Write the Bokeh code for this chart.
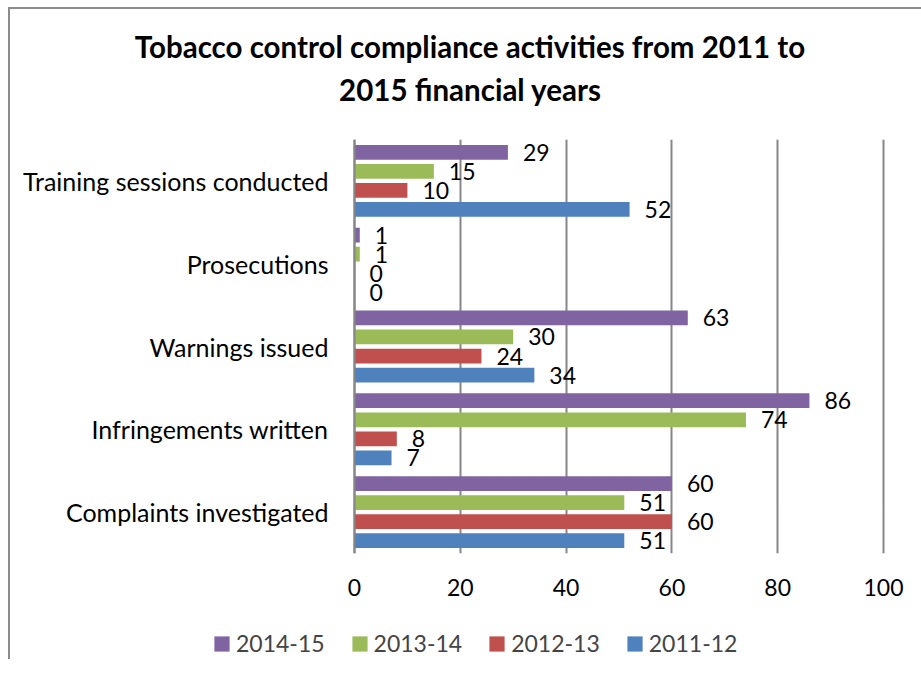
from bokeh.plotting import figure
from bokeh.layouts import column
from bokeh.models import ColumnDataSource, FactorRange, Range1d, Legend, LegendItem, Div
from bokeh.transform import dodge
from bokeh.core.properties import value
from bokeh.embed import file_html
from bokeh.resources import INLINE

title_lines = ["Tobacco control compliance activities from 2011 to", "2015 financial years"]
categories = ["Complaints investigated", "Infringements written", "Warnings issued",
              "Prosecutions", "Training sessions conducted"]
series_names = ["2014-15", "2013-14", "2012-13", "2011-12"]
v_2014_15 = [60, 86, 63, 1, 29]
v_2013_14 = [51, 74, 30, 1, 15]
v_2012_13 = [60, 8, 24, 0, 10]
v_2011_12 = [51, 7, 34, 0, 52]
x_ticks = [0, 20, 40, 60, 80, 100]

colors = {"2014-15": "#8064A2", "2013-14": "#9BBB59", "2012-13": "#C0504D", "2011-12": "#4F81BD"}
offsets = {"2014-15": 0.345, "2013-14": 0.115, "2012-13": -0.115, "2011-12": -0.345}
series_vals = {"2014-15": v_2014_15, "2013-14": v_2013_14, "2012-13": v_2012_13, "2011-12": v_2011_12}

FONT = "Lato"
NUM_SIZE = "23px"
CAT_SIZE = "25px"
W = 911
AXIS_PX = 344           # where value 0 sits, px from the left of the chart
PX_PER_UNIT = 529 / 100  # scale of the value axis

data = dict(cat=categories)
for k, v in series_vals.items():
    c = k.replace("-", "_")
    data["v_" + c] = v
    data["lbl_" + c] = [str(x) for x in v]
src = ColumnDataSource(data)

# title block
title_div = Div(
    text=('<div style="width:%dpx; padding-top:16px; padding-left:9px; box-sizing:border-box; '
          'text-align:center; font-family:Lato; font-size:29.5px; font-weight:bold; color:black; '
          'line-height:43px;">%s<br>%s</div>') % (W, title_lines[0], title_lines[1]),
    width=W, height=110, margin=0)

# main chart: frame spans the full width, value axis positioned so that 0 is at AXIS_PX
x_range = Range1d(-AXIS_PX / PX_PER_UNIT, (W - AXIS_PX) / PX_PER_UNIT)
p = figure(width=W, height=490, y_range=FactorRange(factors=categories), x_range=x_range,
           output_backend="svg", toolbar_location=None,
           min_border_left=0, min_border_right=0, min_border_top=20, min_border_bottom=56, margin=0)

for name in series_names:
    col = name.replace("-", "_")
    p.hbar(y=dodge("cat", offsets[name], range=p.y_range), right="v_" + col, left=0, height=0.178,
           source=src, fill_color=colors[name], line_color=None)
    p.text(x="v_" + col, y=dodge("cat", offsets[name], range=p.y_range), text="lbl_" + col, source=src,
           x_offset=15, text_baseline="middle", text_align="left",
           text_font=value(FONT), text_font_size=NUM_SIZE, text_color="black")

p.xaxis.ticker = x_ticks
p.xaxis.axis_line_color = None
p.xaxis.major_tick_line_color = None
p.xaxis.minor_tick_line_color = None
p.xaxis.major_label_text_font = FONT
p.xaxis.major_label_text_font_size = NUM_SIZE
p.xaxis.major_label_text_color = "black"
p.xaxis.major_label_standoff = 19

p.yaxis.fixed_location = 0
p.yaxis.axis_line_color = "#868686"
p.yaxis.axis_line_width = 2
p.yaxis.major_tick_line_color = None
p.yaxis.minor_tick_line_color = None
p.yaxis.major_label_text_font = FONT
p.yaxis.major_label_text_font_size = CAT_SIZE
p.yaxis.major_label_text_color = "black"
p.yaxis.major_label_standoff = 20

p.ygrid.grid_line_color = None
p.xgrid.grid_line_color = "#868686"
p.xgrid.grid_line_width = 2
p.xgrid.ticker = x_ticks
p.outline_line_color = None

# legend strip
lf = figure(width=W, height=50, x_range=Range1d(0, 1), y_range=Range1d(0, 1), output_backend="svg",
            toolbar_location=None, x_axis_location=None, y_axis_location=None,
            min_border_left=0, min_border_right=0, min_border_top=0, min_border_bottom=0, margin=0)
lf.grid.visible = False
lf.outline_line_color = None
items = []
for name in series_names:
    r = lf.hbar(y=[0.5], right=[0], left=0, height=0.0, fill_color=colors[name], line_color=None)
    items.append(LegendItem(label=name, renderers=[r]))
legend = Legend(items=items, orientation="horizontal", location=(202, 2),
                label_text_font=FONT, label_text_font_size=NUM_SIZE,
                glyph_width=19, glyph_height=19, label_standoff=5, spacing=25,
                border_line_color=None, background_fill_alpha=0, margin=0, padding=0)
lf.add_layout(legend)

layout = column(title_div, p, lf, spacing=0, margin=(7, 0, 0, 8),
                styles={"border-left": "2px solid #8c8c8c", "border-top": "2px solid #8c8c8c"})

open("out.html", "w").write(file_html(layout, INLINE))
